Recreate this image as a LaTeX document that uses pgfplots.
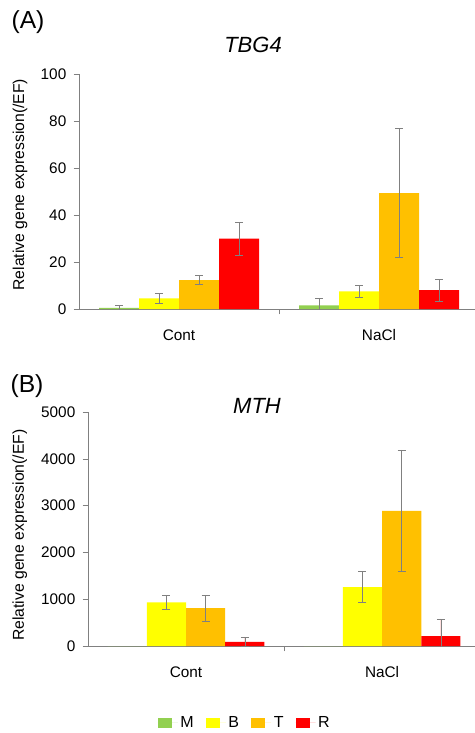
\documentclass[border=0pt]{standalone}
\usepackage{fontspec}
\setmainfont{Liberation Sans}
\usepackage{pgfplots}
\pgfplotsset{compat=1.18}

\definecolor{cM}{HTML}{92D050}
\definecolor{cB}{HTML}{FFFF00}
\definecolor{cT}{HTML}{FFC000}
\definecolor{cR}{HTML}{FF0000}

\pgfplotsset{
  genebar/.style={
    scale only axis,
    ybar, bar width=0.2,
    xmin=-0.5,
    axis x line=bottom, axis y line=left,
    axis line style={-, draw=gray},
    tick style={draw=gray},
    tick align=outside,
    major tick length=4pt,
    xtick={0.5}, xticklabels={},
    extra x ticks={0,1},
    extra x tick labels={Cont,NaCl},
    extra x tick style={major tick length=0pt, xticklabel style={yshift=-12pt}},
    ymin=0,
    /pgf/number format/assume math mode=true,
    /pgf/number format/1000 sep={},
    tick label style={font=\fontsize{11.5}{13}\selectfont},
    yticklabel style={xshift=-2pt},
    ylabel={Relative gene expression(/EF)},
    ylabel style={font=\fontsize{11.8}{13}\selectfont},
    error bars/y dir=both, error bars/y explicit,
    error bars/error bar style={draw=gray, line width=0.5pt},
    error bars/error mark options={rotate=90, draw=gray, mark size=3pt, line width=0.5pt},
  },
}

\begin{document}
\begin{tikzpicture}
\useasboundingbox (0,0) rectangle (475*0.75pt,-733*0.75pt);

\node[font=\fontsize{18.5}{20}\selectfont] at (28*0.75pt,-22*0.75pt) {(A)};
\node[font=\fontsize{16.5}{18}\selectfont\itshape] at (253*0.75pt,-45*0.75pt) {TBG4};

\begin{axis}[
  genebar,
  at={(79*0.75pt,-309*0.75pt)}, anchor=south west,
  width=297pt, height=176.25pt,
  xmax=1.48,
  ymax=100, ytick={0,20,40,60,80,100},
  ylabel style={at={(axis description cs:-0.149,0.529)}, anchor=center},
]
  \addplot[fill=cM, draw=none, bar shift=-0.3] coordinates {(0,0.5) +- (0,1.0) (1,1.5) +- (0,3.2)};
  \addplot[fill=cB, draw=none, bar shift=-0.1] coordinates {(0,4.5) +- (0,2.1) (1,7.5) +- (0,2.7)};
  \addplot[fill=cT, draw=none, bar shift=0.1] coordinates {(0,12.3) +- (0,1.9) (1,49.3) +- (0,27.5)};
  \addplot[fill=cR, draw=none, bar shift=0.3] coordinates {(0,30) +- (0,7) (1,8) +- (0,4.6)};
\end{axis}

\node[font=\fontsize{18.5}{20}\selectfont] at (27*0.75pt,-386*0.75pt) {(B)};
\node[font=\fontsize{16.5}{18}\selectfont\itshape] at (257*0.75pt,-406*0.75pt) {MTH};

\begin{axis}[
  genebar,
  at={(88*0.75pt,-646*0.75pt)}, anchor=south west,
  width=290.25pt, height=175.5pt,
  xmax=1.474,
  ymax=5000, ytick={0,1000,2000,3000,4000,5000},
  ylabel style={at={(axis description cs:-0.176,0.474)}, anchor=center},
  legend style={at={(axis description cs:0.406,-0.329)}, anchor=center,
    legend columns=4, draw=none, fill=none,
    font=\fontsize{12}{14}\selectfont,
    /tikz/every even column/.append style={column sep=7pt}},
  legend image code/.code={\path[#1] (0pt,-3.75pt) rectangle (10.5pt,3.75pt); \path (0pt,0pt) -- (15pt,0pt);},
]
  \addplot[fill=cM, draw=none, bar shift=-0.3] coordinates {(0,0) (1,0)};
  \addlegendentry{M}
  \addplot[fill=cB, draw=none, bar shift=-0.1] coordinates {(0,930) +- (0,155) (1,1260) +- (0,330)};
  \addlegendentry{B}
  \addplot[fill=cT, draw=none, bar shift=0.1] coordinates {(0,810) +- (0,275) (1,2890) +- (0,1300)};
  \addlegendentry{T}
  \addplot[fill=cR, draw=none, bar shift=0.3] coordinates {(0,90) +- (0,105) (1,210) +- (0,370)};
  \addlegendentry{R}
\end{axis}
\end{tikzpicture}
\end{document}
